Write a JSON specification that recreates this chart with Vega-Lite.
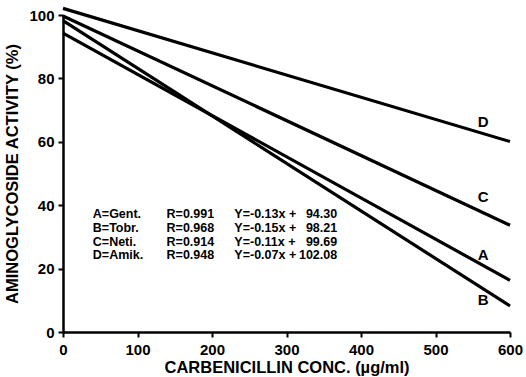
{
  "$schema": "https://vega.github.io/schema/vega-lite/v6.json",
  "width": 447,
  "height": 317,
  "autosize": "none",
  "padding": {"left": 63, "top": 15, "right": 16, "bottom": 45},
  "background": "white",
  "config": {
    "view": {"stroke": null},
    "font": "Liberation Sans",
    "axis": {
      "domainColor": "black", "domainWidth": 2.5, "tickColor": "black", "tickWidth": 2, "tickSize": 5,
      "labelFont": "Liberation Sans", "labelFontWeight": "bold", "labelFontSize": 15, "labelColor": "black",
      "titleFont": "Liberation Sans", "titleFontWeight": "bold", "titleFontSize": 16.5, "titleColor": "black",
      "grid": false
    }
  },
  "datasets": {
    "lines": [
      {"drug": "A", "conc": 0, "act": 94.30}, {"drug": "A", "conc": 600, "act": 16.30},
      {"drug": "B", "conc": 0, "act": 98.21}, {"drug": "B", "conc": 600, "act": 8.21},
      {"drug": "C", "conc": 0, "act": 99.69}, {"drug": "C", "conc": 600, "act": 33.69},
      {"drug": "D", "conc": 0, "act": 102.08}, {"drug": "D", "conc": 600, "act": 60.08}
    ],
    "labels": [
      {"t": "D", "conc": 564, "act": 66.2},
      {"t": "C", "conc": 564, "act": 42.6},
      {"t": "A", "conc": 564, "act": 24.3},
      {"t": "B", "conc": 564, "act": 10.1}
    ],
    "table": [
      {"c1": "A=Gent.", "c2": "R=0.991", "c3": "Y=-0.13x +", "c4": "94.30", "act": 37.2},
      {"c1": "B=Tobr.", "c2": "R=0.968", "c3": "Y=-0.15x +", "c4": "98.21", "act": 32.8},
      {"c1": "C=Neti.", "c2": "R=0.914", "c3": "Y=-0.11x +", "c4": "99.69", "act": 28.4},
      {"c1": "D=Amik.", "c2": "R=0.948", "c3": "Y=-0.07x +", "c4": "102.08", "act": 24.3}
    ]
  },
  "layer": [
    {
      "data": {"name": "lines"},
      "mark": {"type": "line", "color": "black", "strokeWidth": 3.2, "clip": false},
      "encoding": {
        "x": {"field": "conc", "type": "quantitative", "scale": {"domain": [0, 600], "nice": false},
          "axis": {"title": "CARBENICILLIN CONC. (µg/ml)", "values": [0,50,100,150,200,250,300,350,400,450,500,550,600],
            "labelExpr": "datum.value % 100 == 0 ? datum.label : ''", "labelPadding": 5, "titlePadding": 2, "labelFlush": false}},
        "y": {"field": "act", "type": "quantitative", "scale": {"domain": [0, 100], "nice": false},
          "axis": {"title": "AMINOGLYCOSIDE ACTIVITY (%)", "values": [0,10,20,30,40,50,60,70,80,90,100],
            "labelExpr": "datum.value % 20 == 0 ? datum.label : ''", "labelPadding": 4, "titlePadding": 8}},
        "detail": {"field": "drug"}
      }
    },
    {
      "data": {"name": "labels"},
      "mark": {"type": "text", "fontWeight": "bold", "fontSize": 15, "color": "black", "align": "center", "baseline": "middle"},
      "encoding": {
        "x": {"field": "conc", "type": "quantitative"},
        "y": {"field": "act", "type": "quantitative"},
        "text": {"field": "t"}
      }
    },
    {
      "data": {"name": "table"},
      "mark": {"type": "text", "fontWeight": "bold", "fontSize": 12.5, "color": "black", "align": "left", "baseline": "middle"},
      "encoding": {
        "x": {"datum": 40},
        "y": {"field": "act", "type": "quantitative"},
        "text": {"field": "c1"}
      }
    },
    {
      "data": {"name": "table"},
      "mark": {"type": "text", "fontWeight": "bold", "fontSize": 12.5, "color": "black", "align": "left", "baseline": "middle"},
      "encoding": {
        "x": {"datum": 139},
        "y": {"field": "act", "type": "quantitative"},
        "text": {"field": "c2"}
      }
    },
    {
      "data": {"name": "table"},
      "mark": {"type": "text", "fontWeight": "bold", "fontSize": 12.5, "color": "black", "align": "left", "baseline": "middle"},
      "encoding": {
        "x": {"datum": 230},
        "y": {"field": "act", "type": "quantitative"},
        "text": {"field": "c3"}
      }
    },
    {
      "data": {"name": "table"},
      "mark": {"type": "text", "fontWeight": "bold", "fontSize": 12.5, "color": "black", "align": "right", "baseline": "middle"},
      "encoding": {
        "x": {"datum": 368},
        "y": {"field": "act", "type": "quantitative"},
        "text": {"field": "c4"}
      }
    }
  ]
}
